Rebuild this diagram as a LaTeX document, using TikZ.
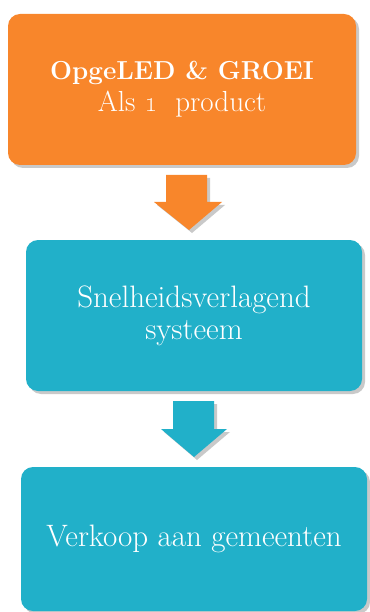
\documentclass[tikz,border=0pt]{standalone}
\usetikzlibrary{shadows}
\definecolor{boxorange}{HTML}{F8862B}
\definecolor{boxteal}{HTML}{21B0C9}
\begin{document}
\begin{tikzpicture}[x=1pt,y=-1pt,
  blk/.style={rectangle, rounded corners=12pt, text=white, align=center,
    drop shadow={shadow xshift=3pt, shadow yshift=-3pt, opacity=0.3, fill=black!70},
    font=\fontsize{31}{32}\selectfont, inner sep=0pt},
  barrow/.style={drop shadow={shadow xshift=3pt, shadow yshift=-3pt, opacity=0.3, fill=black!70}}]
\useasboundingbox (0,0) rectangle (369,612);
\node[blk, fill=boxorange, minimum width=348pt, minimum height=151pt] (a) at (182,89.5)
  {{\fontsize{26}{32}\selectfont\bfseries OpgeLED \& GROEI}\\{\fontsize{29}{32}\selectfont Als \oldstylenums{1}\ \ product}};
\node[blk, fill=boxteal, minimum width=336pt, minimum height=151pt] (b) at (194,315.5)
  {Snelheidsverlagend\\systeem};
\node[blk, fill=boxteal, minimum width=346pt, minimum height=144pt] (c) at (194,539)
  {Verkoop aan gemeenten};
\fill[boxorange, barrow] (166,175) -- (207,175) -- (207,202) -- (222,202) -- (189,230) -- (154,202) -- (166,202) -- cycle;
\fill[boxteal, barrow] (173,401) -- (214,401) -- (214,429) -- (227,429) -- (194,457) -- (161,429) -- (173,429) -- cycle;
\end{tikzpicture}
\end{document}
